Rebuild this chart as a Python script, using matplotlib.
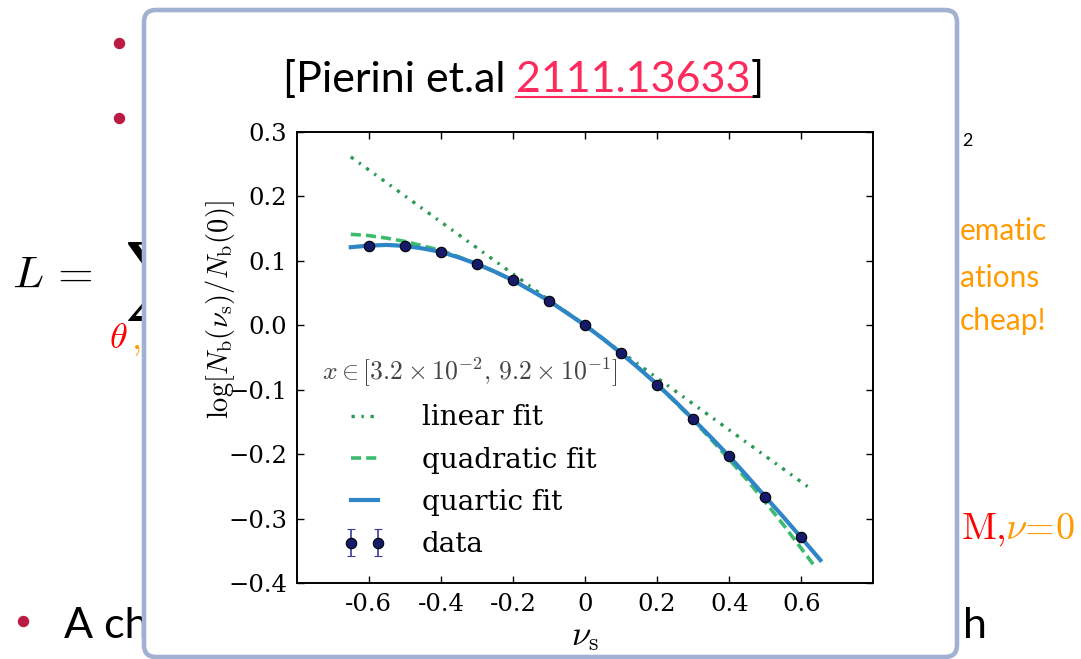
"""Slide snapshot: Pierini et al. 2111.13633, log N_b ratio versus nu_s with fits."""
import matplotlib
matplotlib.use("Agg")
import matplotlib.pyplot as plt
from matplotlib.lines import Line2D
from matplotlib.patches import FancyBboxPatch
from matplotlib.transforms import IdentityTransform

W, H = 1081, 659

# measured data points
nu_s = [-0.6, -0.5, -0.4, -0.3, -0.2, -0.1, 0.0, 0.1, 0.2, 0.3, 0.4, 0.5, 0.6]
log_ratio = [0.123, 0.123, 0.114, 0.095, 0.070, 0.038, 0.0,
             -0.043, -0.092, -0.146, -0.203, -0.266, -0.329]
log_ratio_err = [0.003, 0.003, 0.003, 0.003, 0.003, 0.003, 0.003,
                 0.003, 0.003, 0.003, 0.003, 0.003, 0.003]

# fit curves
lin_x = [-0.65, 0.63]
lin_y = [0.261, -0.255]

quad_x = [-0.65, -0.6, -0.55, -0.5, -0.45, -0.4, -0.35, -0.3, -0.25, -0.2, -0.15,
          -0.1, -0.05, 0.0, 0.05, 0.1, 0.15, 0.2, 0.25, 0.3, 0.35, 0.4, 0.45,
          0.5, 0.55, 0.6, 0.635]
quad_y = [0.141, 0.139, 0.135, 0.130, 0.123, 0.116, 0.106, 0.095, 0.083, 0.069,
          0.054, 0.038, 0.0195, 0.0, -0.021, -0.043, -0.067, -0.092, -0.119,
          -0.147, -0.177, -0.208, -0.240, -0.274, -0.309, -0.346, -0.372]

quart_x = [-0.65, -0.6, -0.55, -0.5, -0.45, -0.4, -0.35, -0.3, -0.25, -0.2, -0.15,
           -0.1, -0.05, 0.0, 0.05, 0.1, 0.15, 0.2, 0.25, 0.3, 0.35, 0.4, 0.45,
           0.5, 0.55, 0.6, 0.653]
quart_y = [0.121, 0.1235, 0.1245, 0.123, 0.119, 0.1137, 0.105, 0.095, 0.083,
           0.0697, 0.054, 0.0377, 0.019, 0.0, -0.021, -0.0434, -0.067, -0.0915,
           -0.118, -0.1457, -0.174, -0.2031, -0.234, -0.2657, -0.297, -0.3293,
           -0.364]

xticks = [-0.6, -0.4, -0.2, 0.0, 0.2, 0.4, 0.6]
xtick_labels = ["-0.6", "-0.4", "-0.2", "0", "0.2", "0.4", "0.6"]
yticks = [-0.4, -0.3, -0.2, -0.1, 0.0, 0.1, 0.2, 0.3]

legend_labels = ["linear fit", "quadratic fit", "quartic fit", "data"]
legend_title = r"$x\in[3.2\times10^{-2},\,9.2\times10^{-1}]$"

title_parts = ["[Pierini et.al ", "2111.13633", "]"]
title_colors = ["black", "#fd2a5c", "black"]

RED = "#ff0000"
ORANGE = "#ff9a00"
BULLET = "#bb1b42"

plt.rcParams["font.family"] = "DejaVu Serif"
plt.rcParams["mathtext.fontset"] = "cm"

fig = plt.figure(figsize=(W / 100, H / 100), dpi=100, facecolor="white")


def fx(x):
    return x / W


def fy(y):
    return 1 - y / H


# --- slide content behind the popup box ---
for bx, by in [(119, 43), (119, 118), (23, 621)]:
    fig.add_artist(Line2D([fx(bx)], [fy(by)], marker="o", ms=7.2, color=BULLET,
                          mec=BULLET, transform=fig.transFigure, zorder=1))

fig.text(fx(12), fy(288), r"$L\,=$", fontsize=33, va="baseline", zorder=1)
fig.text(fx(124), fy(300), r"$\sum$", fontsize=40, va="baseline", zorder=1)
fig.text(fx(109), fy(348), r"$\theta$", fontsize=26, color=RED, va="baseline", zorder=1)
fig.text(fx(131), fy(349), r"$,$", fontsize=26, color=ORANGE, va="baseline", zorder=1)
fig.text(fx(962), fy(146), "2", fontsize=13, family="Lato", va="baseline", zorder=1)
for txt, yb in [("ematic", 240), ("ations", 287), ("cheap!", 330)]:
    fig.text(fx(960), fy(yb), txt, fontsize=21.5, family="Lato", color=ORANGE,
             va="baseline", zorder=1)
fig.text(fx(961), fy(539), r"$\mathrm{M},$", fontsize=27.5, color=RED, va="baseline", zorder=1)
fig.text(fx(1005), fy(539), r"$\nu\!=\!0$", fontsize=27.5, color=ORANGE, va="baseline", zorder=1)
fig.text(fx(64), fy(638), "A ch", fontsize=31, family="Lato", va="baseline", zorder=1)
fig.text(fx(963), fy(638), "h", fontsize=31, family="Lato", va="baseline", zorder=1)

# popup box
box = FancyBboxPatch((144, H - 657), 957 - 144, 657 - 10,
                     boxstyle="round,pad=0,rounding_size=12",
                     facecolor="white", edgecolor="#a2b0d2", linewidth=3.3,
                     transform=IdentityTransform(), zorder=2)
fig.add_artist(box)

# --- the plot ---
ax = fig.add_axes([0.2745, 0.1149, 0.5334, 0.6852])
ax.set_zorder(3)

l_lin, = ax.plot(lin_x, lin_y, color="#2b9a55", lw=2.4,
                 dashes=(1.0, 2.0, 0.7, 2.0))
l_quad, = ax.plot(quad_x, quad_y, color="#3dbb6c", lw=2.6, dashes=(2.8, 1.4))
l_quart, = ax.plot(quart_x, quart_y, color="#2f86c6", lw=3.0)
eb = ax.errorbar(nu_s, log_ratio, yerr=log_ratio_err, fmt="o", ms=7.5,
                 mfc="#161a6b", mec="black", mew=0.8, ecolor="#3a3a9e",
                 elinewidth=1.2, capsize=3.2, zorder=5)

ax.set_xlim(-0.8, 0.8)
ax.set_ylim(-0.4, 0.3)
ax.set_xticks(xticks, labels=xtick_labels)
ax.set_yticks(yticks)
ax.tick_params(direction="in", top=True, right=True, length=5, width=1,
               labelsize=17.5, pad=7)
for sp in ax.spines.values():
    sp.set_linewidth(1.4)

ax.set_xlabel(r"$\nu_{\rm s}$", fontsize=25, labelpad=2)
ax.set_ylabel(r"$\log[N_{\rm b}(\nu_{\rm s})/N_{\rm b}(0)]$", fontsize=20.5)
ax.yaxis.set_label_coords(-0.104, 0.607)

leg = ax.legend([l_lin, l_quad, l_quart, eb], legend_labels, loc="lower left",
                frameon=False, fontsize=20, title=legend_title, title_fontsize=18.5,
                numpoints=2, handlelength=1.55, labelspacing=0.55,
                handletextpad=1.3)
leg.get_title().set_color("#444444")

# --- title with underlined link ---
r = fig.canvas.get_renderer()
pieces = []
for txt, col in zip(title_parts, title_colors):
    pieces.append(fig.text(0, fy(92), txt, fontsize=31, family="Lato", color=col,
                           va="baseline", zorder=4))
widths = [p.get_window_extent(renderer=r).width for p in pieces]
x = 523.5 - sum(widths) / 2
for i, (p, w) in enumerate(zip(pieces, widths)):
    p.set_x(fx(x))
    if i == 1:
        fig.add_artist(Line2D([fx(x), fx(x + w)], [fy(97), fy(97)], color=title_colors[1],
                              lw=1.5, transform=fig.transFigure, zorder=4))
    x += w

fig.savefig("out.png", dpi=100, facecolor="white")
